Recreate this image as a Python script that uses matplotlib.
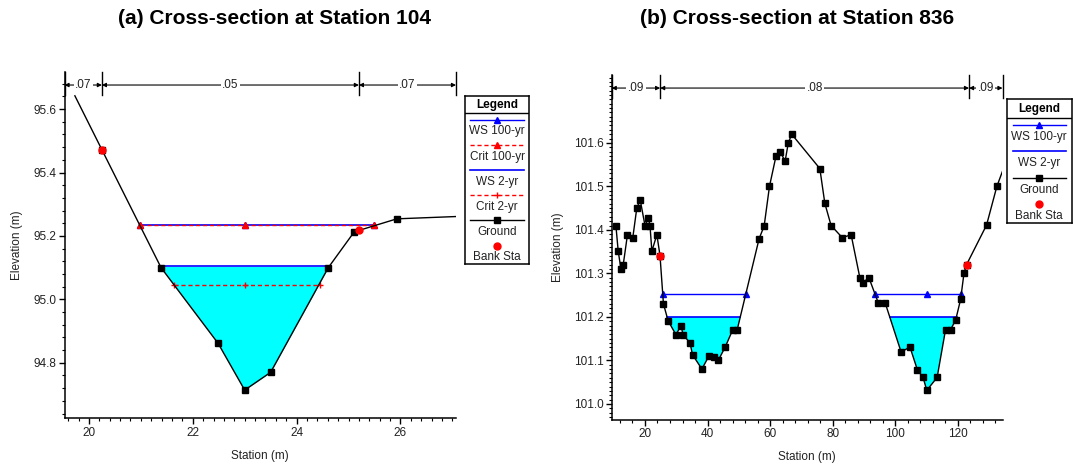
import matplotlib
matplotlib.use("Agg")
import matplotlib.pyplot as plt
from matplotlib.ticker import MultipleLocator, FormatStrFormatter
import numpy as np

plt.rcParams['font.family'] = ['Liberation Sans', 'DejaVu Sans']

# ---------------- data: (a) Station 104 ----------------
a_ground_sta = [19.73, 20.25, 21.39, 22.49, 23.00, 23.50, 24.61, 25.11, 25.93, 27.50]
a_ground_elev = [95.642, 95.472, 95.100, 94.861, 94.714, 94.770, 95.100, 95.213, 95.254, 95.264]
a_ground_marked = [1, 2, 3, 4, 5, 6, 7, 8]
a_bank_sta = [20.25, 25.20]
a_bank_elev = [95.472, 95.218]
a_ws100_sta = [20.98, 23.00, 25.49]
a_ws100 = 95.234
a_crit100_sta = [20.98, 23.00, 25.49]
a_crit100 = 95.234
a_ws2_sta = [21.38, 24.61]
a_ws2 = 95.104
a_crit2_sta = [21.63, 23.00, 24.45]
a_crit2 = 95.044
a_n_bounds = [19.53, 20.25, 25.20, 27.07]
a_n_values = ['.07', '.05', '.07']
a_xticks = [20, 22, 24, 26]
a_yticks = [94.8, 95.0, 95.2, 95.4, 95.6]
a_title = '(a) Cross-section at Station 104'

# ---------------- data: (b) Station 836 ----------------
b_ground_sta = [10.7, 11.44, 12.3, 13.03, 14.4, 16.1, 17.4, 18.5, 20.0, 21.1, 21.6, 22.2,
                23.8, 24.8, 25.9, 27.4, 29.9, 31.5, 32.2, 34.4, 35.2, 38.2, 40.5, 42.0,
                43.5, 45.6, 48.1, 49.5, 56.5, 58.1, 59.8, 61.9, 63.2, 64.8, 65.8, 66.9,
                75.9, 77.5, 79.5, 83.1, 85.9, 88.7, 89.7, 91.6, 94.6, 96.8, 101.9, 104.7,
                107.1, 108.9, 110.1, 113.4, 116.1, 117.7, 119.3, 120.9, 122.0, 122.8,
                129.2, 132.5, 137.0]
b_ground_elev = [101.410, 101.351, 101.311, 101.319, 101.389, 101.382, 101.451, 101.468,
                 101.410, 101.428, 101.410, 101.351, 101.389, 101.341, 101.230, 101.191,
                 101.159, 101.180, 101.159, 101.140, 101.113, 101.080, 101.111, 101.107,
                 101.101, 101.130, 101.171, 101.171, 101.380, 101.409, 101.500, 101.570,
                 101.580, 101.558, 101.599, 101.620, 101.541, 101.461, 101.410, 101.382,
                 101.389, 101.290, 101.279, 101.290, 101.232, 101.232, 101.119, 101.131,
                 101.078, 101.061, 101.031, 101.061, 101.171, 101.171, 101.192, 101.240,
                 101.301, 101.320, 101.411, 101.500, 101.587]
b_ground_marked = list(range(0, 60))
b_bank_sta = [24.8, 122.8]
b_bank_elev = [101.341, 101.320]
b_ws100_segments = [[25.7, 52.3], [93.5, 110.1, 121.1]]
b_ws100 = 101.253
b_ws2_segments = [[27.0, 50.5], [98.2, 119.6]]
b_ws2 = 101.200
b_n_bounds = [9.36, 24.85, 123.6, 134.3]
b_n_values = ['.09', '.08', '.09']
b_xticks = [20, 40, 60, 80, 100, 120]
b_yticks = [101.0, 101.1, 101.2, 101.3, 101.4, 101.5, 101.6]
b_title = '(b) Cross-section at Station 836'

a_legend = ['WS 100-yr', 'Crit 100-yr', 'WS 2-yr', 'Crit 2-yr', 'Ground', 'Bank Sta']
b_legend = ['WS 100-yr', 'WS 2-yr', 'Ground', 'Bank Sta']

# ---------------- styles ----------------
WS_C = '#0000FF'
CRIT_C = '#FF0000'
FILL_C = '#00FFFF'
FS = 8.5

W, H = 1073, 465
fig = plt.figure(figsize=(W / 100, H / 100), dpi=100)


def px_rect(x0, y0, x1, y1):
    return [x0 / W, 1 - y1 / H, (x1 - x0) / W, (y1 - y0) / H]


def style_axes(ax, xlim, ylim, xticks, yticks, xminor, yminor):
    ax.set_xlim(*xlim)
    ax.set_ylim(*ylim)
    ax.set_xticks(xticks)
    ax.set_yticks(yticks)
    ax.xaxis.set_minor_locator(MultipleLocator(xminor))
    ax.yaxis.set_minor_locator(MultipleLocator(yminor))
    ax.yaxis.set_major_formatter(FormatStrFormatter('%.1f'))
    for s in ['top', 'right']:
        ax.spines[s].set_visible(False)
    for s in ['left', 'bottom']:
        ax.spines[s].set_linewidth(1.1)
    ax.tick_params(which='major', direction='out', length=4, width=1, labelsize=FS,
                   colors='k', labelcolor='#222222', pad=2)
    ax.tick_params(which='minor', direction='out', length=2.5, width=0.8)
    ax.set_xlabel('Station (m)', fontsize=FS, labelpad=8, color='#222222')
    ax.set_ylabel('Elevation (m)', fontsize=FS, labelpad=7, color='#222222')


def n_bars(ax, bounds, labels, y_arrow, y_bot, y_top):
    for b in bounds:
        ax.plot([b, b], [y_bot, y_top], color='k', lw=1.0, clip_on=False, zorder=6)
    for i, lab in enumerate(labels):
        x0, x1 = bounds[i], bounds[i + 1]
        ax.annotate('', xy=(x0, y_arrow), xytext=(x1, y_arrow),
                    arrowprops=dict(arrowstyle='<|-|>', lw=0.8, color='k',
                                    shrinkA=0, shrinkB=0, mutation_scale=6),
                    annotation_clip=False, zorder=6)
        ax.text((x0 + x1) / 2, y_arrow, lab, ha='center', va='center', fontsize=FS,
                color='#222222', zorder=7,
                bbox=dict(fc='white', ec='none', pad=1.0))


# ---------------- panel (a) ----------------
axa = fig.add_axes(px_rect(64.5, 71.7, 456, 418.3))
style_axes(axa, (a_n_bounds[0], a_n_bounds[-1]), (94.625, 95.718),
           a_xticks, a_yticks, 0.2, 0.04)
gs = np.array(a_ground_sta)
ge = np.array(a_ground_elev)
axa.fill_between(gs, ge, a_ws2, where=ge <= a_ws2, interpolate=True,
                 color=FILL_C, lw=0, zorder=1)
axa.plot(a_ws2_sta, [a_ws2] * len(a_ws2_sta), color=WS_C, lw=1.2, zorder=3)
axa.plot(a_crit2_sta, [a_crit2] * len(a_crit2_sta), color=CRIT_C, lw=1.0,
         ls=(0, (3, 2)), marker='+', ms=4, mew=1, zorder=3)
axa.plot(a_ws100_sta, [a_ws100] * len(a_ws100_sta), color=WS_C, lw=1.2,
         marker='^', ms=4, zorder=3)
axa.plot(a_crit100_sta, [a_crit100] * len(a_crit100_sta), color=CRIT_C, lw=1.0,
         ls=(0, (3, 2)), marker='^', ms=4, zorder=4)
axa.plot(gs, ge, color='k', lw=1.0, zorder=5)
axa.plot(gs[a_ground_marked], ge[a_ground_marked], ls='none', marker='s', ms=4.5,
         color='k', zorder=5)
axa.plot(a_bank_sta, a_bank_elev, ls='none', marker='o', ms=5, color=CRIT_C, zorder=6)
n_bars(axa, a_n_bounds, a_n_values, 95.676, 95.645, 95.718)

# ---------------- panel (b) ----------------
axb = fig.add_axes(px_rect(611.7, 75, 1002.5, 420))
style_axes(axb, (b_n_bounds[0], b_n_bounds[-1]), (100.963, 101.756),
           b_xticks, b_yticks, 4, 0.01)
gs = np.array(b_ground_sta)
ge = np.array(b_ground_elev)
axb.fill_between(gs, ge, b_ws2, where=ge <= b_ws2, interpolate=True,
                 color=FILL_C, lw=0, zorder=1)
for seg in b_ws2_segments:
    axb.plot(seg, [b_ws2] * len(seg), color=WS_C, lw=1.2, zorder=3)
for seg in b_ws100_segments:
    axb.plot(seg, [b_ws100] * len(seg), color=WS_C, lw=1.0, marker='^', ms=4, zorder=3)
axb.plot(gs, ge, color='k', lw=1.0, zorder=5)
axb.plot(gs[b_ground_marked], ge[b_ground_marked], ls='none', marker='s', ms=4.5,
         color='k', zorder=5)
axb.plot(b_bank_sta, b_bank_elev, ls='none', marker='o', ms=5, color=CRIT_C, zorder=6)
n_bars(axb, b_n_bounds, b_n_values, 101.726, 101.703, 101.756)

# ---------------- titles ----------------
fig.text(275 / W, 1 - 19 / H, a_title, ha='center', va='center', fontsize=15,
         fontweight='bold')
fig.text(797 / W, 1 - 19 / H, b_title, ha='center', va='center', fontsize=15,
         fontweight='bold')

# ---------------- legends ----------------
LEG_STYLES = {
    'WS 100-yr': dict(color=WS_C, ls='-', marker='^', ms=4, lw=1.0),
    'Crit 100-yr': dict(color=CRIT_C, ls=(0, (3, 2)), marker='^', ms=4, lw=1.0),
    'WS 2-yr': dict(color=WS_C, ls='-', marker=None, lw=1.2),
    'Crit 2-yr': dict(color=CRIT_C, ls=(0, (3, 2)), marker='+', ms=4, lw=1.0),
    'Ground': dict(color='k', ls='-', marker='s', ms=4.5, lw=1.0),
    'Bank Sta': dict(color=CRIT_C, ls='none', marker='o', ms=5),
}


def draw_legend(x0, y0, x1, y1, header_h, entries, line_pad):
    lax = fig.add_axes(px_rect(x0, y0, x1, y1))
    w, h = x1 - x0, y1 - y0
    lax.set_xlim(0, w)
    lax.set_ylim(h, 0)
    lax.set_xticks([])
    lax.set_yticks([])
    for s in lax.spines.values():
        s.set_linewidth(1.1)
    lax.text(w / 2, header_h / 2 + 0.5, 'Legend', ha='center', va='center',
             fontsize=FS, fontweight='bold')
    lax.plot([0, w], [header_h, header_h], color='k', lw=1.0)
    step = (h - header_h) / len(entries)
    for i, name in enumerate(entries):
        yl = header_h + i * step + 0.27 * step
        yt = header_h + i * step + 0.73 * step
        st = dict(LEG_STYLES[name])
        if st.get('ls') == 'none':
            lax.plot([w / 2], [yl], **st)
        else:
            lax.plot([line_pad, w - line_pad], [yl, yl], **{k: v for k, v in st.items()
                                                           if k not in ('marker', 'ms')})
            if st.get('marker'):
                lax.plot([w / 2], [yl], color=st['color'], marker=st['marker'],
                         ms=st['ms'], ls='none')
        lax.text(w / 2, yt, name, ha='center', va='center', fontsize=FS,
                 color='#222222')


draw_legend(465, 96, 529, 264, 17, a_legend, 5)
draw_legend(1007, 99, 1071.5, 223, 19, b_legend, 6)

fig.savefig('out.png', dpi=100)
